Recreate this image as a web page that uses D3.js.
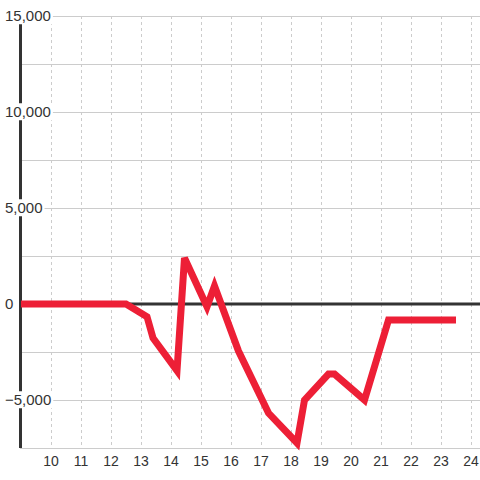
<!DOCTYPE html>
<html>
<head>
<meta charset="utf-8">
<script src="https://cdn.jsdelivr.net/npm/d3@7"></script>
<style>
  html, body { margin: 0; padding: 0; background: #fff; }
  svg { display: block; font-family: "Liberation Sans", Arial, sans-serif; }
</style>
</head>
<body>
<div id="chart"></div>
<script>
// Data
const hours = [9, 10, 11, 12, 12.5, 13.2, 13.4, 14.2, 14.45, 15.2, 15.45, 16.25, 17.25, 18.2, 18.45, 19.25, 19.45, 20.45, 21.25, 22.25, 23.25, 23.5];
const values = [0, 0, 0, 0, 0, -660, -1770, -3470, 2400, -140, 940, -2450, -5680, -7240, -5000, -3650, -3650, -5000, -830, -830, -830, -830];
const xTicks = [10, 11, 12, 13, 14, 15, 16, 17, 18, 19, 20, 21, 22, 23, 24];
const yTicks = [15000, 10000, 5000, 0, -5000];
const yMinor = [12500, 7500, 2500, -2500, -7500];

const width = 480;
const height = 480;
const plot = { left: 21, right: 480, top: 16, bottom: 448 };

const svg = d3.select('#chart')
  .append('svg')
  .attr('width', width)
  .attr('height', height);

const x = d3.scaleLinear().domain([9, 24.3]).range([plot.left, plot.right]);
const y = d3.scaleLinear().domain([-7500, 15000]).range([plot.bottom, plot.top]);

// Horizontal grid
svg.append('g')
  .selectAll('line')
  .data(yTicks.concat(yMinor).filter(d => d !== 0))
  .enter()
  .append('line')
  .attr('x1', plot.left - 1)
  .attr('x2', plot.right)
  .attr('y1', d => y(d) + 0.5)
  .attr('y2', d => y(d) + 0.5)
  .attr('stroke', '#cccccc')
  .attr('stroke-width', 1);

// Vertical dotted grid
svg.append('g')
  .selectAll('line')
  .data(xTicks)
  .enter()
  .append('line')
  .attr('x1', d => Math.round(x(d)) + 0.5)
  .attr('x2', d => Math.round(x(d)) + 0.5)
  .attr('y1', plot.top)
  .attr('y2', plot.bottom)
  .attr('stroke', '#cccccc')
  .attr('stroke-width', 1)
  .attr('stroke-dasharray', '3,3');

// Zero line
svg.append('line')
  .attr('x1', plot.left - 1)
  .attr('x2', plot.right)
  .attr('y1', y(0))
  .attr('y2', y(0))
  .attr('stroke', '#333333')
  .attr('stroke-width', 3);

// Y axis line
svg.append('line')
  .attr('x1', plot.left - 0.5)
  .attr('x2', plot.left - 0.5)
  .attr('y1', plot.top)
  .attr('y2', plot.bottom)
  .attr('stroke', '#333333')
  .attr('stroke-width', 3);

// Data line
const line = d3.line()
  .x((d, i) => x(hours[i]))
  .y(d => y(d));

svg.append('path')
  .datum(values)
  .attr('d', line)
  .attr('fill', 'none')
  .attr('stroke', '#ed1f36')
  .attr('stroke-width', 7);

// Y labels with white backing
const yLab = svg.append('g')
  .selectAll('g')
  .data(yTicks)
  .enter()
  .append('g')
  .attr('transform', d => `translate(5,${y(d)})`);

yLab.append('text')
  .attr('dy', '0.35em')
  .style('font-size', '15px')
  .style('fill', '#333333')
  .text(d => d3.format(',')(d));

yLab.each(function() {
  const g = d3.select(this);
  const bb = g.select('text').node().getBBox();
  g.insert('rect', 'text')
    .attr('x', bb.x - 2)
    .attr('y', bb.y)
    .attr('width', bb.width + 4)
    .attr('height', bb.height)
    .attr('fill', '#ffffff');
});

// X labels
svg.append('g')
  .selectAll('text')
  .data(xTicks)
  .enter()
  .append('text')
  .attr('x', d => x(d))
  .attr('y', 461)
  .attr('dy', '0.35em')
  .attr('text-anchor', 'middle')
  .style('font-size', '14px')
  .style('fill', '#333333')
  .text(d => d);
</script>
</body>
</html>
